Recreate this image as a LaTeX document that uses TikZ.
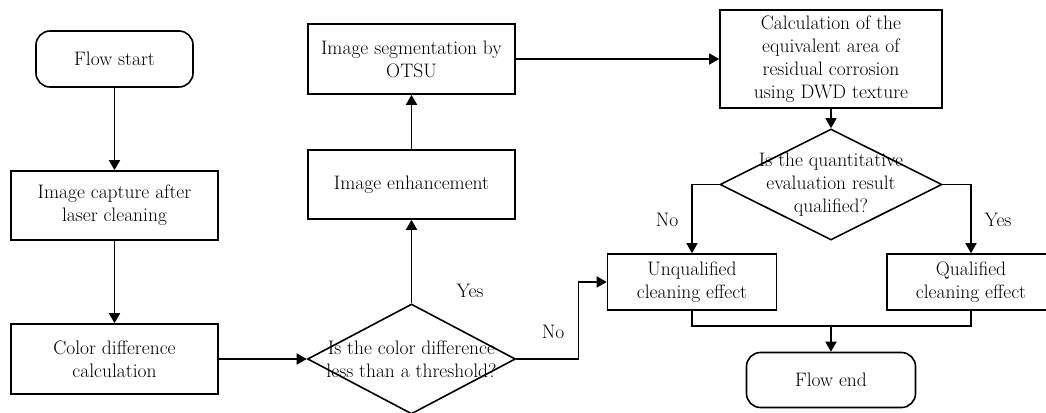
\documentclass[tikz,border=0pt]{standalone}
\usepackage{tikz}
\usetikzlibrary{arrows.meta,shapes.geometric,calc}

\begin{document}
\begin{tikzpicture}[x=1pt,y=-1pt,line width=1.6pt,
	font=\fontsize{19.5}{23}\selectfont,
	box/.style={draw,rectangle,align=center,inner sep=0pt},
	term/.style={box,rounded corners=14pt},
	decision/.style={draw,diamond,inner sep=0pt},
	arr/.style={-{Triangle[length=10pt,width=11pt]}}]
\useasboundingbox (0,0) rectangle (1046,412);
%left column
\node[term,minimum width=157pt,minimum height=56pt] (start) at (114.5,59) {Flow start};
\node[box,minimum width=207pt,minimum height=69pt] (capture) at (114.5,205.5) {Image capture after\\laser cleaning};
\node[box,minimum width=207pt,minimum height=70pt] (colordiff) at (114.5,359) {Color difference\\calculation};
%middle column
\node[decision,minimum width=208pt,minimum height=110pt] (check1) at (411.5,359) {};
\node[align=center] (check1text) at (check1) {Is the color difference\\less than a threshold?};
\node[box,minimum width=207pt,minimum height=69pt] (enhance) at (411.5,184.5) {Image enhancement};
\node[box,minimum width=207pt,minimum height=70pt] (otsu) at (411.5,59) {Image segmentation by\\OTSU};
%right part
\node[box,minimum width=222pt,minimum height=98pt] (area) at (831,59) {Calculation of the\\equivalent area of\\residual corrosion\\using DWD texture};
\node[decision,minimum width=222pt,minimum height=111pt] (check2) at (831,184.5) {};
\node[align=center] (check2text) at (check2) {Is the quantitative\\evaluation result\\qualified?};
\node[box,minimum width=169pt,minimum height=56pt] (unqual) at (692,282) {Unqualified\\cleaning effect};
\node[box,minimum width=168pt,minimum height=56pt] (qual) at (971,282) {Qualified\\cleaning effect};
\node[term,minimum width=169pt,minimum height=55pt] (stop) at (831,380) {Flow end};
%labels
\node (yes1) at (470,291) {Yes};
\node (no1) at (553,332) {No};
\node (no2) at (667,220) {No};
\node (yes2) at (998,220) {Yes};
%arrows
\draw[arr] (start) -- (capture);
\draw[arr] (capture) -- (colordiff);
\draw[arr] (colordiff) -- (check1);
\draw[arr] (check1) -- (enhance);
\draw[arr] (enhance) -- (otsu);
\draw[arr] (otsu) -- (area);
\draw[arr] (area) -- (check2);
\draw[arr] (check2.west) -| (unqual);
\draw[arr] (check2.east) -| (qual);
\draw[arr] (check1.east) -- ++(62,0) |- (unqual.west);
\coordinate (join) at (831,326);
\draw (unqual.south) |- (join) -| (qual.south);
\draw[arr] (join) -- (stop);
\end{tikzpicture}
\end{document}
